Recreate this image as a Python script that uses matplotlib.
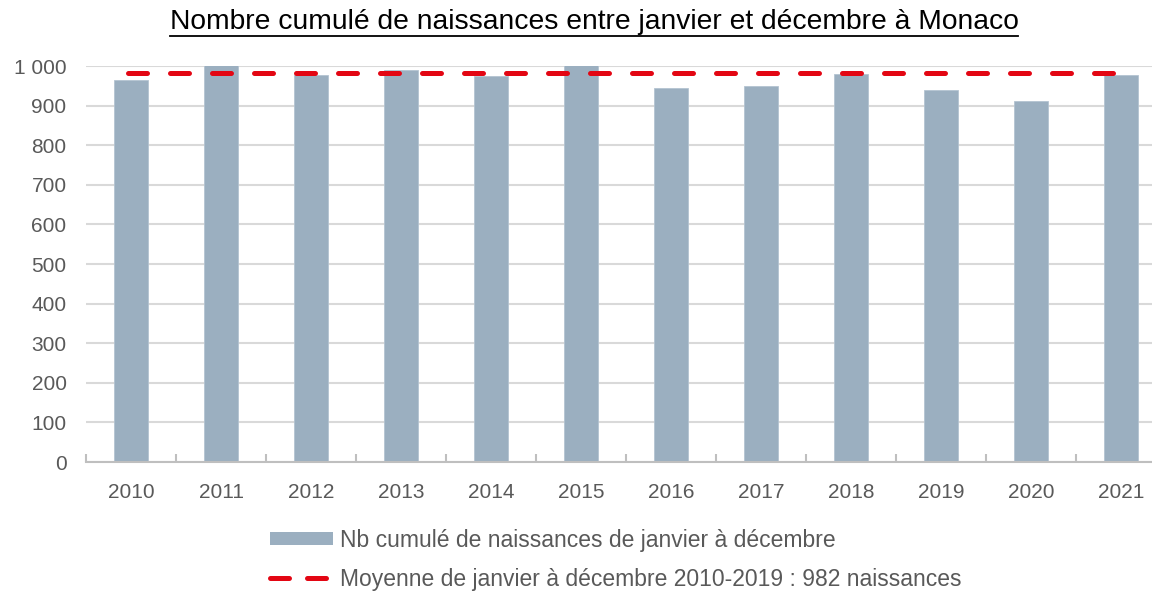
import numpy as np
import matplotlib
matplotlib.use("Agg")
import matplotlib.pyplot as plt
from matplotlib.lines import Line2D
from matplotlib.patches import Patch

plt.rcParams["font.family"] = ["Liberation Sans", "DejaVu Sans"]

years = ["2010", "2011", "2012", "2013", "2014", "2015",
         "2016", "2017", "2018", "2019", "2020", "2021"]
births = [965, 1003, 977, 990, 975, 1004, 944, 950, 980, 940, 912, 977]
mean_2010_2019 = 982
y_ticks = [0, 100, 200, 300, 400, 500, 600, 700, 800, 900, 1000]
y_labels = ["0", "100", "200", "300", "400", "500", "600", "700", "800", "900", "1 000"]

title = "Nombre cumulé de naissances entre janvier et décembre à Monaco"
bar_label = "Nb cumulé de naissances de janvier à décembre"
mean_label = "Moyenne de janvier à décembre 2010-2019 : 982 naissances"

bar_color = "#9BAFC0"
red = "#E30613"
grey_text = "#595959"
grid_color = "#D9D9D9"

W, H = 1152, 591
fig = plt.figure(figsize=(W / 100, H / 100), dpi=100)
ax = fig.add_axes([86 / W, 1 - 462 / H, 1080 / W, 396 / H])

x = np.arange(len(years))
ax.bar(x, births, width=0.38, color=bar_color, edgecolor="#B4C4D1",
       linewidth=0.6, zorder=2)

dash_line = ax.plot([x[0] - 0.03, x[-1]], [mean_2010_2019] * 2, color=red,
                    linewidth=3.6, solid_capstyle="round",
                    dash_capstyle="round", zorder=3)[0]
dash_line.set_dashes((3.8, 4.6))

ax.set_xlim(-0.5, len(years) - 0.5)
ax.set_ylim(0, 1000)
ax.set_yticks(y_ticks)
ax.set_yticklabels(y_labels)
ax.set_xticks(x)
ax.set_xticklabels(years)
ax.set_xticks(np.arange(-0.5, len(years), 1), minor=True)

ax.yaxis.grid(True, color=grid_color, linewidth=1.5, zorder=0)
ax.set_axisbelow(True)
for side in ["top", "right", "left"]:
    ax.spines[side].set_visible(False)
ax.spines["bottom"].set_color("#BFBFBF")
ax.spines["bottom"].set_linewidth(1.5)

ax.tick_params(axis="y", length=0, pad=14, labelsize=15, labelcolor=grey_text)
ax.tick_params(axis="x", which="major", length=0, pad=15, labelsize=15,
               labelcolor=grey_text)
ax.tick_params(axis="x", which="minor", direction="in", length=6,
               width=1.5, color="#BFBFBF")

# title, underlined
t = fig.text(594 / W, 1 - 22 / H, title, ha="center", va="center",
             fontsize=20.3, color="black")
fig.canvas.draw()
bb = t.get_window_extent()
uy = (bb.y0 - 1) / H
fig.add_artist(Line2D([bb.x0 / W, bb.x1 / W], [uy, uy], color="black",
                      linewidth=1.3, transform=fig.transFigure))

# legend
bar_handle = Patch(facecolor=bar_color, edgecolor="none")
line_handle = Line2D([], [], color=red, linewidth=3.6,
                     dash_capstyle="round", solid_capstyle="round")
line_handle.set_dashes((3.8, 3.6))
fig.legend([bar_handle, line_handle], [bar_label, mean_label],
           loc="upper left", bbox_to_anchor=(270 / W, 1 - 529 / H),
           frameon=False, fontsize=16.5, handlelength=2.75, handleheight=0.5,
           handletextpad=0.3, labelspacing=0.68, borderpad=0,
           borderaxespad=0, labelcolor=grey_text)

fig.savefig("out.png", dpi=100)
